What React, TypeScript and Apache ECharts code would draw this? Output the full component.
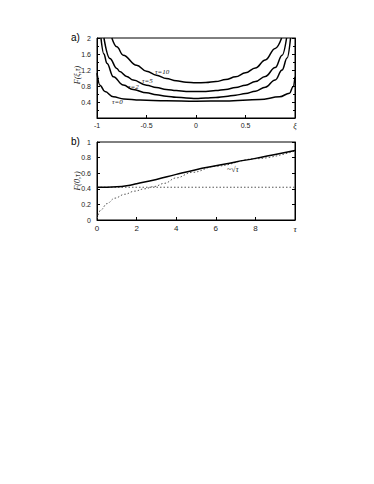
import React, { useEffect, useRef } from "react";
import * as echarts from "echarts";

// Panel a) F(xi, tau) profiles: [xi, F]
const tau10: number[][] = [
  [-0.85, 2.0], [-0.8, 1.78], [-0.735, 1.57], [-0.6, 1.32], [-0.5, 1.17], [-0.4, 1.07],
  [-0.3, 0.99], [-0.2, 0.93], [-0.1, 0.895], [0, 0.88], [0.1, 0.885], [0.2, 0.91],
  [0.3, 0.96], [0.4, 1.03], [0.5, 1.13], [0.6, 1.25], [0.7, 1.45], [0.8, 1.74], [0.865, 2.0],
];
const tau5: number[][] = [
  [-0.93, 2.0], [-0.87, 1.49], [-0.8, 1.24], [-0.77, 1.16], [-0.7, 1.04], [-0.635, 0.95],
  [-0.5, 0.82], [-0.4, 0.76], [-0.3, 0.715], [-0.2, 0.685], [-0.1, 0.665], [0, 0.66],
  [0.1, 0.665], [0.2, 0.685], [0.3, 0.715], [0.4, 0.76], [0.5, 0.82], [0.6, 0.91],
  [0.7, 1.04], [0.8, 1.26], [0.87, 1.57], [0.915, 2.0],
];
const tau2: number[][] = [
  [-0.96, 2.0], [-0.93, 1.6], [-0.9, 1.37], [-0.835, 1.03], [-0.735, 0.825], [-0.635, 0.71],
  [-0.5, 0.63], [-0.4, 0.58], [-0.3, 0.545], [-0.2, 0.52], [-0.1, 0.5], [0, 0.49],
  [0.1, 0.5], [0.2, 0.515], [0.3, 0.54], [0.4, 0.57], [0.5, 0.61], [0.6, 0.67],
  [0.7, 0.77], [0.8, 0.95], [0.87, 1.2], [0.92, 1.5], [0.955, 2.0],
];
const tau0: number[][] = [
  [-1, 1.12], [-0.97, 0.82], [-0.92, 0.66], [-0.835, 0.53], [-0.73, 0.475], [-0.565, 0.45],
  [-0.3, 0.43], [0, 0.42], [0.3, 0.425], [0.645, 0.46], [0.845, 0.53], [0.945, 0.62],
  [0.98, 0.78], [1.0, 1.03],
];

// Panel b) F(0, tau): [tau, F]
const centre: number[][] = [
  [0, 0.42], [0.5, 0.42], [1, 0.425], [1.5, 0.44], [2, 0.465], [3, 0.52], [4, 0.585],
  [5, 0.645], [6, 0.695], [7, 0.745], [8, 0.79], [9, 0.84], [10, 0.89],
];
const sqrtAsym: number[][] = [
  [0, 0.02], [0.2, 0.13], [0.5, 0.21], [0.9, 0.28], [1.4, 0.33], [1.9, 0.37], [2.4, 0.4],
  [2.9, 0.43], [3.4, 0.47], [4, 0.54], [4.8, 0.61], [6, 0.69], [8, 0.785], [10, 0.885],
];
const plateau: number[][] = [[0, 0.42], [10, 0.42]];

const curveLabels = [
  { text: "τ=10", x: 155, y: 68 },
  { text: "τ=5", x: 142, y: 77 },
  { text: "τ=2", x: 128, y: 83 },
  { text: "τ=0", x: 112, y: 98 },
];

const tickFont = { fontFamily: "Liberation Sans", fontSize: 7, color: "#222" };

export default function App() {
  const ref = useRef<HTMLDivElement>(null);
  useEffect(() => {
    if (!ref.current) return;
    const chart = echarts.init(ref.current, null, { renderer: "svg" });
    const lineStyle = { color: "#000", width: 1.5 };
    const axisLine = { show: true, onZero: false, lineStyle: { color: "#000", width: 1 } };
    const tick = { show: true, inside: true, length: 3, lineStyle: { color: "#000" } };
    const minor = { show: true, splitNumber: 2, length: 2, lineStyle: { color: "#000" } };
    chart.setOption({
      animation: false,
      grid: [
        { left: 97, top: 38, width: 198, height: 80, show: true, borderColor: "#000", borderWidth: 1 },
        { left: 97, top: 142, width: 198, height: 78, show: true, borderColor: "#000", borderWidth: 1 },
      ],
      xAxis: [
        {
          gridIndex: 0, type: "value", min: -1, max: 1, interval: 0.5,
          axisLine, axisTick: tick, splitLine: { show: false },
          axisLabel: {
            ...tickFont, margin: 4,
            formatter: (v: number) => (v === 1 ? "{i|ξ}" : String(v)),
            rich: { i: { fontFamily: "Liberation Serif", fontStyle: "italic", fontSize: 8, color: "#222" } },
          },
        },
        {
          gridIndex: 1, type: "value", min: 0, max: 10, interval: 2,
          axisLine, axisTick: tick, splitLine: { show: false },
          axisLabel: {
            ...tickFont, fontSize: 8, margin: 4,
            formatter: (v: number) => (v === 10 ? "{i|τ}" : String(v)),
            rich: { i: { fontFamily: "Liberation Serif", fontStyle: "italic", fontSize: 9, color: "#222" } },
          },
        },
      ],
      yAxis: [
        {
          gridIndex: 0, type: "value", min: 0, max: 2, interval: 0.4,
          axisLine, axisTick: tick, minorTick: minor, splitLine: { show: false },
          axisLabel: { ...tickFont, margin: 6, formatter: (v: number) => (v === 0 ? "" : String(v)) },
        },
        {
          gridIndex: 1, type: "value", min: 0, max: 1, interval: 0.2,
          axisLine, axisTick: tick, splitLine: { show: false },
          axisLabel: { ...tickFont, margin: 6 },
        },
        {
          gridIndex: 0, type: "value", min: 0, max: 2, interval: 0.4, position: "right",
          axisLine, axisTick: tick, minorTick: minor, splitLine: { show: false },
          axisLabel: { show: false },
        },
        {
          gridIndex: 1, type: "value", min: 0, max: 1, interval: 0.2, position: "right",
          axisLine, axisTick: tick, splitLine: { show: false },
          axisLabel: { show: false },
        },
      ],
      series: [
        ...[tau0, tau2, tau5, tau10].map((d) => ({
          type: "line", xAxisIndex: 0, yAxisIndex: 0, data: d, showSymbol: false,
          smooth: 0.4, smoothMonotone: "x", lineStyle, clip: true, silent: true,
        })),
        {
          type: "line", xAxisIndex: 1, yAxisIndex: 1, data: plateau, showSymbol: false,
          lineStyle: { color: "#555", width: 1, type: [1.5, 2] }, silent: true,
        },
        {
          type: "line", xAxisIndex: 1, yAxisIndex: 1, data: sqrtAsym, showSymbol: false,
          smooth: 0.4, smoothMonotone: "x",
          lineStyle: { color: "#555", width: 1, type: [1.5, 2] }, silent: true,
        },
        {
          type: "line", xAxisIndex: 1, yAxisIndex: 1, data: centre, showSymbol: false,
          smooth: 0.5, lineStyle, silent: true,
        },
      ],
      graphic: [
        { type: "text", left: 71, top: 32, style: { text: "a)", font: "10px Liberation Sans", fill: "#000" } },
        { type: "text", left: 71, top: 136, style: { text: "b)", font: "10px Liberation Sans", fill: "#000" } },
        {
          type: "text", x: 77, y: 75, rotation: Math.PI / 2,
          style: { text: "F(ξ,τ)", font: "italic 8px Liberation Serif", fill: "#222", align: "center", verticalAlign: "middle" },
        },
        {
          type: "text", x: 77, y: 181, rotation: Math.PI / 2,
          style: { text: "F(0,τ)", font: "italic 8px Liberation Serif", fill: "#222", align: "center", verticalAlign: "middle" },
        },
        ...curveLabels.map((l) => ({
          type: "text", x: l.x, y: l.y,
          style: { text: l.text, font: "italic 7px Liberation Serif", fill: "#111" },
        })),
        { type: "text", x: 227, y: 165, style: { text: "~√τ", font: "italic 8px Liberation Serif", fill: "#222" } },
      ],
    });
    return () => chart.dispose();
  }, []);
  return (
    <div
      ref={ref}
      style={{ position: "fixed", left: 0, top: 0, width: 374, height: 484, background: "#fff" }}
    />
  );
}
